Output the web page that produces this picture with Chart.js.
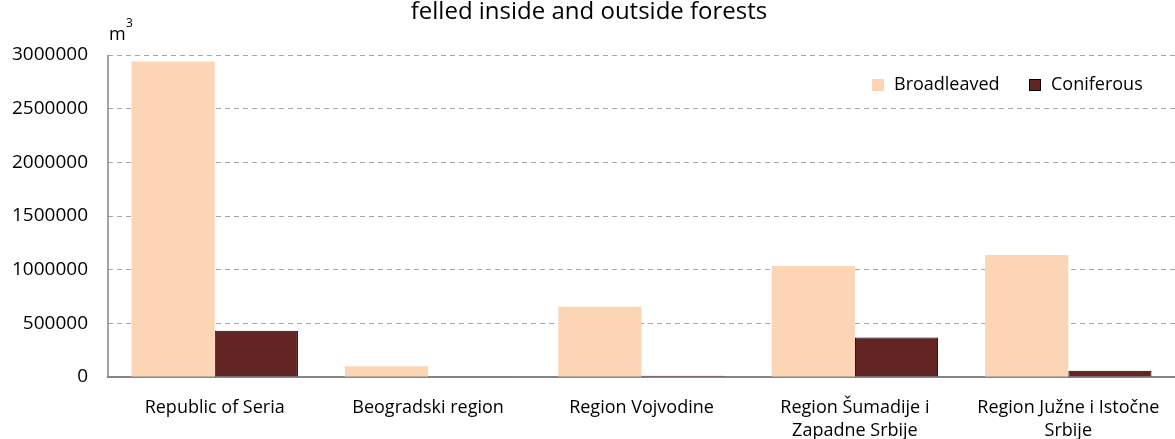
<!DOCTYPE html>
<html>
<head>
<meta charset="utf-8">
<script src="https://cdn.jsdelivr.net/npm/chart.js@4.4.1/dist/chart.umd.min.js"></script>
<style>
  html, body { margin: 0; padding: 0; background: #fff; }
  #wrap { width: 1175px; height: 439px; }
</style>
</head>
<body>
<div id="wrap"><canvas id="chart"></canvas></div>
<script>
const regions = [
  'Republic of Seria',
  'Beogradski region',
  'Region Vojvodine',
  ['Region Šumadije i', 'Zapadne Srbije'],
  ['Region Južne i Istočne', 'Srbije'],
];
const broadleaved = [2940000, 99000, 655000, 1033000, 1136000];
const coniferous = [432000, 8000, 12000, 368000, 59000];
const yTicks = [0, 500000, 1000000, 1500000, 2000000, 2500000, 3000000];

const FONT = "'Open Sans', sans-serif";

// title, unit, left axis line and legend drawn over the canvas
const overlay = {
  id: 'overlay',
  afterDraw(chart) {
    const ctx = chart.ctx;
    const area = chart.chartArea;
    ctx.save();

    // solid left axis
    ctx.strokeStyle = '#868686';
    ctx.lineWidth = 1.5;
    ctx.beginPath();
    ctx.moveTo(area.left, area.top);
    ctx.lineTo(area.left, area.bottom);
    ctx.stroke();

    ctx.fillStyle = '#000';
    ctx.textBaseline = 'middle';

    ctx.font = '24px ' + FONT;
    ctx.textAlign = 'center';
    ctx.fillText('felled inside and outside forests', 589, 12);

    ctx.textAlign = 'left';
    ctx.font = '18px ' + FONT;
    ctx.fillText('m', 109, 35);
    ctx.font = '12px ' + FONT;
    ctx.fillText('3', 126, 24);

    // legend
    ctx.font = '18px ' + FONT;
    const items = [
      { ds: chart.data.datasets[0], x: 872 },
      { ds: chart.data.datasets[1], x: 1029 },
    ];
    items.forEach(it => {
      ctx.fillStyle = it.ds.backgroundColor;
      ctx.fillRect(it.x, 79, 12, 12);
      if (it.ds.borderWidth) {
        ctx.strokeStyle = it.ds.borderColor;
        ctx.lineWidth = 1;
        ctx.strokeRect(it.x + 0.5, 79.5, 11, 11);
      }
      ctx.fillStyle = '#000';
      ctx.fillText(it.ds.label, it.x + 22, 85);
    });
    ctx.restore();
  },
};

new Chart(document.getElementById('chart'), {
  type: 'bar',
  data: {
    labels: regions,
    datasets: [
      {
        label: 'Broadleaved',
        data: broadleaved,
        backgroundColor: '#FCD5B5',
        borderWidth: 0,
      },
      {
        label: 'Coniferous',
        data: coniferous,
        backgroundColor: '#632523',
        borderColor: '#000',
        borderWidth: 1,
      },
    ],
  },
  options: {
    responsive: true,
    maintainAspectRatio: false,
    animation: false,
    layout: { padding: { top: 55, right: 0, left: 0, bottom: 0 } },
    datasets: {
      bar: { categoryPercentage: 0.78, barPercentage: 1.0 },
    },
    plugins: {
      legend: { display: false },
      title: { display: false },
      tooltip: { enabled: false },
    },
    scales: {
      x: {
        grid: { display: false },
        border: { display: true, color: '#868686', width: 2 },
        ticks: {
          color: '#000',
          font: { family: FONT, size: 18, lineHeight: 1.25 },
          padding: 12,
          maxRotation: 0,
          autoSkip: false,
        },
        afterFit(scale) { scale.height = 62; },
      },
      y: {
        min: 0,
        max: 3000000,
        afterBuildTicks(scale) {
          scale.ticks = yTicks.map(v => ({ value: v }));
        },
        grid: {
          color: '#a6a6a6',
          drawTicks: false,
          lineWidth: 1,
          borderDash: [5, 4],
        },
        border: { display: false, dash: [5, 4] },
        ticks: {
          color: '#000',
          font: { family: FONT, size: 19 },
          padding: 20,
          callback: v => String(v),
        },
        afterFit(scale) { scale.width = 108; },
      },
    },
  },
  plugins: [overlay],
});
</script>
</body>
</html>
